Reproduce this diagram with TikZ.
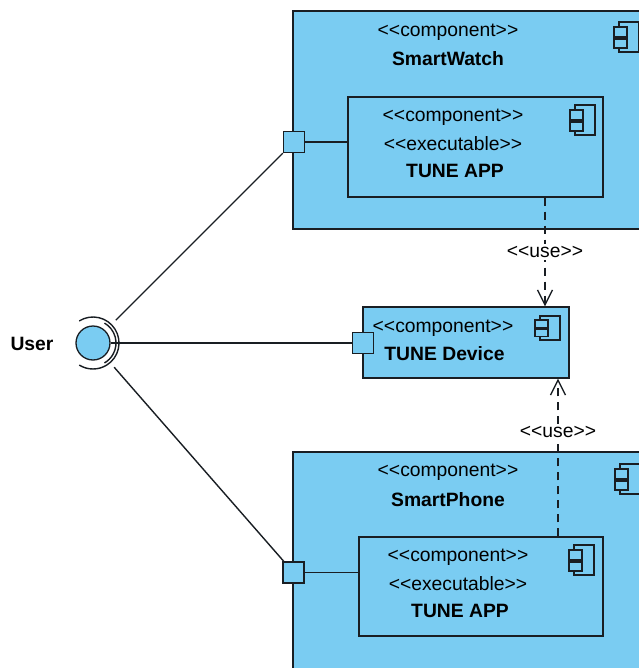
\documentclass[tikz,border=0pt]{standalone}
\usepackage{fontspec}
\setmainfont{Liberation Sans}
\usetikzlibrary{arrows.meta}
\definecolor{compblue}{RGB}{122,204,242}
\definecolor{edge}{RGB}{25,30,35}
\newcommand{\stlt}{<{}<}
\newcommand{\stgt}{>{}>}
\begin{document}
\begin{tikzpicture}[x=1pt,y=-1pt,
  box/.style={draw=edge, line width=1.3pt, fill=compblue, inner sep=0pt},
  portbox/.style={box, minimum size=21pt},
  txt/.style={inner sep=0pt, font=\fontsize{19.3}{23}\selectfont},
  btxt/.style={inner sep=0pt, font=\fontsize{19.3}{23}\selectfont\bfseries},
  conn/.style={draw=edge, line width=1.4pt},
  usearrow/.style={draw=edge, line width=1.3pt, dash pattern=on 8pt off 6pt,
     -{Straight Barb[length=15pt,width=15pt,line width=1.3pt]}},
  compicon/.pic={
    \draw[draw=edge, line width=1.2pt, fill=compblue] (0,0) rectangle (20,30);
    \draw[draw=edge, line width=1.2pt, fill=compblue] (-5,5) rectangle (8,15);
    \draw[draw=edge, line width=1.2pt, fill=compblue] (-5,17) rectangle (8,26);
  }]

% outer components
\node[box, minimum width=387pt, minimum height=218pt] (watch) at (486.5,120) {};
\node[box, minimum width=387pt, minimum height=268pt] (phone) at (486.5,586) {};
\node[box, minimum width=255pt, minimum height=100pt] (wapp) at (475.5,147) {};
\node[box, minimum width=244pt, minimum height=99pt] (papp) at (481,586.5) {};
\node[box, minimum width=206pt, minimum height=71pt] (device) at (466,342.5) {};

% icons
\pic at (619,22) {compicon};
\pic at (575,105) {compicon};
\pic at (620,464) {compicon};
\pic at (574,545) {compicon};
\pic[yscale=0.8] at (540,316) {compicon};

% texts
\node[txt] (wst) at (448,32) {\stlt component\stgt};
\node[btxt] (wname) at (448,59) {SmartWatch};
\node[txt] (wast) at (453,117) {\stlt component\stgt};
\node[txt] (waex) at (453,144) {\stlt executable\stgt};
\node[btxt] (waname) at (455,171) {TUNE APP};
\node[txt] (dst) at (443,328) {\stlt component\stgt};
\node[btxt] (dname) at (444.5,354) {TUNE Device};
\node[txt] (pst) at (448,472) {\stlt component\stgt};
\node[btxt] (pname) at (448,500) {SmartPhone};
\node[txt] (past) at (458,557) {\stlt component\stgt};
\node[txt] (paex) at (458,584) {\stlt executable\stgt};
\node[btxt] (paname) at (460,611) {TUNE APP};

% user interface
\node[btxt] (userlabel) at (32,344) {User};
\node[circle, draw=edge, line width=1.3pt, fill=compblue, minimum size=34pt, inner sep=0pt] (user) at (93,343) {};
\node[circle, minimum size=64pt, inner sep=0pt] (ring) at (93,343) {};
\draw[conn] ([shift={(-122:26)}]user.center) arc[start angle=-122, end angle=122, radius=26];
\draw[conn] ([shift={(-60:23)}]user.center) arc[start angle=-60, end angle=60, radius=23];

% ports
\node[portbox] (wport) at (294,142) {};
\node[portbox] (dport) at (363,343) {};
\node[portbox] (pport) at (293.5,572.5) {};

% connectors
\draw[conn] (ring) -- (wport);
\draw[conn] (user) -- (dport);
\draw[conn] (ring) -- (pport);
\draw[conn] (wport) -- (wport -| wapp.west);
\draw[conn] (pport) -- (pport -| papp.west);

\coordinate (wx) at (545,0);
\coordinate (px) at (558,0);
\draw[usearrow] (wapp.south -| wx) -- node[fill=white, txt, inner sep=2pt] (use1) {\stlt use\stgt} (device.north -| wx);
\draw[usearrow] (papp.north -| px) -- node[pos=0.665, fill=white, txt, inner sep=2pt] (use2) {\stlt use\stgt} (device.south -| px);

\pgfresetboundingbox
\useasboundingbox (0,0) rectangle (638,668);
\end{tikzpicture}
\end{document}
